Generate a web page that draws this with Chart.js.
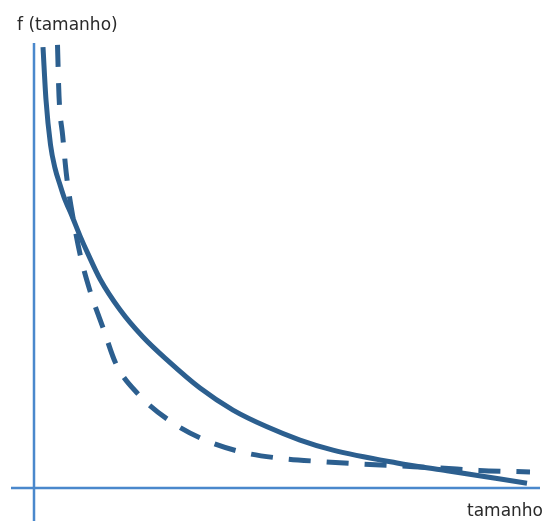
<!DOCTYPE html>
<html>
<head>
<meta charset="utf-8">
<script src="https://cdn.jsdelivr.net/npm/chart.js@4/dist/chart.umd.min.js"></script>
<style>
html,body{margin:0;padding:0;background:#fff;}
#c{display:block;}
</style>
</head>
<body>
<canvas id="c" width="544" height="521"></canvas>
<script>
// Values (arbitrary units; origin at the axes crossing)
const solidX = [0.18,0.24,0.33,0.42,0.52,0.60,0.76,0.92,1.08,1.32,1.72,2.18,2.66,3.32,3.98,4.66,5.32,5.98,7.26,8.26,9.86];
const solidY = [10.02,8.82,7.80,7.27,6.89,6.61,6.18,5.73,5.32,4.75,4.05,3.43,2.91,2.27,1.77,1.39,1.09,0.86,0.57,0.39,0.11];
const dashX = [0.47,0.50,0.574,0.65,0.77,0.92,1.12,1.39,1.64,2.08,2.75,3.46,4.18,4.97,5.75,6.52,7.32,8.12,8.9,9.92];
const dashY = [10.07,8.91,8.0,7.11,6.21,5.32,4.48,3.61,2.82,2.14,1.5,1.07,0.81,0.67,0.60,0.545,0.5,0.455,0.40,0.364];
const yAxisLabel = "f (tamanho)";
const xAxisLabel = "tamanho";

const toPts = (xs, ys) => xs.map((x, i) => ({x, y: ys[i]}));

const lineColor = '#2c5f8f';
const axisColor = '#4a88cc';

const axesPlugin = {
  id: 'axesPlugin',
  beforeDatasetsDraw(chart) {
    const {ctx, scales: {x, y}} = chart;
    ctx.save();
    ctx.strokeStyle = axisColor;
    ctx.lineWidth = 2.5;
    const x0 = x.getPixelForValue(0);
    const y0 = y.getPixelForValue(0);
    ctx.beginPath();
    ctx.moveTo(x0, y.getPixelForValue(10.11));
    ctx.lineTo(x0, y.getPixelForValue(-0.75));
    ctx.moveTo(x.getPixelForValue(-0.46), y0);
    ctx.lineTo(x.getPixelForValue(10.12), y0);
    ctx.stroke();
    ctx.fillStyle = '#2a2a2a';
    ctx.font = '17px "DejaVu Sans", sans-serif';
    ctx.textBaseline = 'alphabetic';
    ctx.textAlign = 'left';
    ctx.fillText(yAxisLabel, 17, 30);
    ctx.textAlign = 'right';
    ctx.fillText(xAxisLabel, 543, 516);
    ctx.restore();
  }
};

new Chart(document.getElementById('c'), {
  type: 'line',
  data: {
    datasets: [
      {
        data: toPts(solidX, solidY),
        borderColor: lineColor,
        borderWidth: 5,
        pointRadius: 0,
        cubicInterpolationMode: 'monotone',
        fill: false
      },
      {
        data: toPts(dashX, dashY),
        borderColor: lineColor,
        borderWidth: 5,
        borderDash: [22, 16],
        pointRadius: 0,
        cubicInterpolationMode: 'monotone',
        fill: false
      }
    ]
  },
  options: {
    responsive: false,
    animation: false,
    layout: {padding: 0},
    plugins: {legend: {display: false}, tooltip: {enabled: false}},
    scales: {
      x: {type: 'linear', display: false, min: -0.68, max: 10.2},
      y: {type: 'linear', display: false, min: -0.75, max: 11.09}
    }
  },
  plugins: [axesPlugin]
});
</script>
</body>
</html>
